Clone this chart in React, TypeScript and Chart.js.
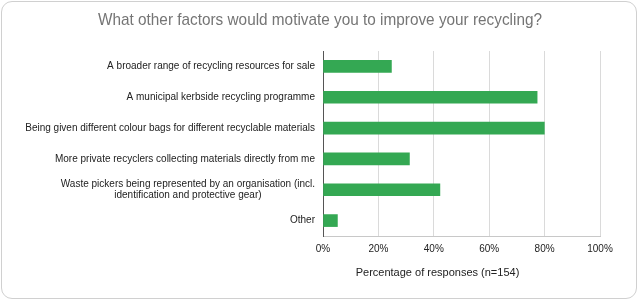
import React, { useEffect, useRef } from "react";
import { Chart, registerables } from "chart.js";

Chart.register(...registerables);

const chartTitle = "What other factors would motivate you to improve your recycling?";
const categories: (string | string[])[] = [
  "A broader range of recycling resources for sale",
  "A municipal kerbside recycling programme",
  "Being given different colour bags for different recyclable materials",
  "More private recyclers collecting materials directly from me",
  ["Waste pickers being represented by an organisation (incl.", "identification and protective gear)"],
  "Other",
];
const percentages = [24.7, 77.3, 79.9, 31.2, 42.2, 5.2];
const xTicks = [0, 20, 40, 60, 80, 100];
const xAxisTitle = "Percentage of responses (n=154)";

const FONT = "'Liberation Sans', Arial, Helvetica, sans-serif";

export default function App() {
  const ref = useRef<HTMLCanvasElement | null>(null);

  useEffect(() => {
    const canvas = ref.current;
    if (!canvas) return;

    const labelPlugin = {
      id: "customLabels",
      afterDraw(chart: any) {
        const ctx = chart.ctx;
        const ys = chart.scales.y;
        const area = chart.chartArea;
        ctx.save();
        // chart title
        ctx.font = `17px ${FONT}`;
        ctx.fillStyle = "#757575";
        ctx.textAlign = "center";
        ctx.textBaseline = "alphabetic";
        ctx.fillText(chartTitle, chart.width / 2, 24.5, 444);
        // category labels
        ctx.font = `10px ${FONT}`;
        ctx.fillStyle = "#222222";
        ctx.textBaseline = "middle";
        ctx.textAlign = "center";
        const right = area.left - 8;
        const lh = 11;
        categories.forEach((lab, i) => {
          const lines = Array.isArray(lab) ? lab : [lab];
          const w = Math.max(...lines.map((l) => ctx.measureText(l).width));
          const cx = right - w / 2;
          const y = ys.getPixelForValue(i);
          lines.forEach((l, j) => {
            ctx.fillText(l, cx, y + (j - (lines.length - 1) / 2) * lh);
          });
        });
        // x-axis title
        ctx.font = `11px ${FONT}`;
        ctx.fillText(xAxisTitle, (area.left + area.right) / 2 - 24, area.bottom + 37, 164);
        ctx.restore();
      },
    };

    const chart = new Chart(canvas, {
      type: "bar",
      data: {
        labels: categories.map((c) => (Array.isArray(c) ? c.join(" ") : c)),
        datasets: [
          {
            data: percentages,
            backgroundColor: "#34a853",
            borderWidth: 0,
            barThickness: 12,
          },
        ],
      },
      options: {
        indexAxis: "y",
        responsive: false,
        animation: false,
        layout: { padding: { left: 0, right: 40, top: 51, bottom: 0 } },
        plugins: {
          legend: { display: false },
          tooltip: { enabled: false },
          title: { display: false },
        },
        scales: {
          x: {
            min: 0,
            max: 100,
            afterBuildTicks(scale: any) {
              scale.ticks = xTicks.map((v) => ({ value: v }));
            },
            afterFit(scale: any) {
              scale.height = 66;
            },
            ticks: {
              color: "#222222",
              font: { family: FONT, size: 10 },
              padding: 7,
              maxRotation: 0,
              callback: (v: any) => `${v}%`,
            },
            grid: {
              drawTicks: false,
              color: (c: any) => (c.index === 0 ? "#555555" : "#dadada"),
              lineWidth: 1,
            },
            border: { display: true, color: "#c8c8c8" },
          },
          y: {
            afterFit(scale: any) {
              scale.width = 323;
            },
            ticks: { display: false },
            grid: { display: false, drawTicks: false },
            border: { display: true, color: "#555555" },
          },
        },
      },
      plugins: [labelPlugin],
    } as any);

    return () => chart.destroy();
  }, []);

  return (
    <div
      style={{
        position: "fixed",
        left: 0,
        top: 0,
        width: 640,
        height: 302,
        background: "#ffffff",
      }}
    >
      <div
        style={{
          position: "absolute",
          left: 1,
          top: 1,
          width: 636,
          height: 298,
          boxSizing: "border-box",
          border: "1.5px solid #d0d0d0",
          borderRadius: 11,
        }}
      />
      <canvas ref={ref} width={640} height={302} style={{ position: "absolute", left: 0, top: 0 }} />
    </div>
  );
}
